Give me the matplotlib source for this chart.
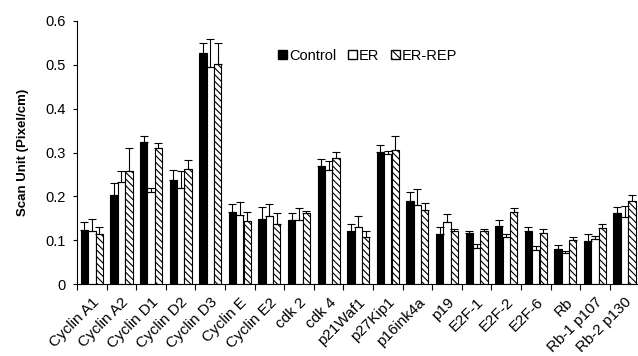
import numpy as np
import matplotlib.pyplot as plt
from matplotlib.patches import Patch

plt.rcParams["font.family"] = ["Liberation Sans", "DejaVu Sans"]
plt.rcParams["hatch.linewidth"] = 0.8

# ---------
# > Data <
# ---------
categories = ["Cyclin A1", "Cyclin A2", "Cyclin D1", "Cyclin D2", "Cyclin D3",
              "Cyclin E", "Cyclin E2", "cdk 2", "cdk 4", "p21Waf1", "p27Kip1",
              "p16ink4a", "p19", "E2F-1", "E2F-2", "E2F-6", "Rb", "Rb-1 p107",
              "Rb-2 p130"]
control = [0.124, 0.203, 0.325, 0.238, 0.528, 0.164, 0.149, 0.146, 0.270, 0.121,
           0.302, 0.190, 0.114, 0.117, 0.133, 0.122, 0.080, 0.097, 0.162]
er = [0.121, 0.232, 0.210, 0.219, 0.494, 0.158, 0.154, 0.147, 0.259, 0.130,
      0.297, 0.181, 0.141, 0.083, 0.108, 0.077, 0.070, 0.102, 0.152]
er_rep = [0.115, 0.257, 0.311, 0.263, 0.501, 0.143, 0.138, 0.161, 0.287, 0.108,
          0.306, 0.169, 0.122, 0.120, 0.164, 0.116, 0.100, 0.127, 0.190]
control_err = [0.017, 0.027, 0.013, 0.022, 0.021, 0.018, 0.027, 0.015, 0.015, 0.015,
               0.014, 0.019, 0.016, 0.004, 0.012, 0.009, 0.008, 0.017, 0.013]
er_err = [0.027, 0.025, 0.010, 0.038, 0.065, 0.030, 0.029, 0.027, 0.022, 0.024,
          0.007, 0.035, 0.018, 0.008, 0.006, 0.009, 0.006, 0.008, 0.026]
er_rep_err = [0.015, 0.054, 0.010, 0.021, 0.048, 0.021, 0.024, 0.006, 0.015, 0.013,
              0.031, 0.015, 0.003, 0.006, 0.009, 0.009, 0.008, 0.009, 0.012]
y_ticks = [0, 0.1, 0.2, 0.3, 0.4, 0.5, 0.6]

# ----------
# > Figure <
# ----------
fig = plt.figure(figsize=(6.38, 3.56), dpi=100)
n = len(categories)
# axis from x=77px, groups ~29.6px wide
ax = fig.add_axes([77 / 638, 72 / 356, n * 29.6 / 638, 263 / 356])

x = np.arange(n)
w = 0.25
bar_kw = dict(edgecolor="black", linewidth=0.8)
err_kw = dict(ecolor="black", elinewidth=0.8, capsize=3, capthick=0.8)

# plus-only error bars (Excel style)
def plus_only(err):
    return [np.zeros(len(err)), err]

ax.bar(x - w, control, w, color="black", yerr=plus_only(control_err), error_kw=err_kw, **bar_kw)
ax.bar(x, er, w, color="white", yerr=plus_only(er_err), error_kw=err_kw, **bar_kw)
ax.bar(x + w, er_rep, w, color="white", hatch="\\\\\\\\\\", yerr=plus_only(er_rep_err),
       error_kw=err_kw, **bar_kw)

ax.set_xlim(-0.5, n - 0.5)
ax.set_ylim(0, 0.6)
ax.set_yticks(y_ticks)
ax.set_yticklabels([f"{t:g}" for t in y_ticks], fontsize=10.5)

# ticks at group boundaries, labels at centers
ax.set_xticks(np.arange(n + 1) - 0.5)
ax.set_xticklabels([])
ax.set_xticks(x, minor=True)
ax.set_xticklabels(categories, minor=True, rotation=45, ha="right",
                   rotation_mode="anchor", fontsize=11)
ax.tick_params(axis="x", which="minor", length=0, pad=8)
ax.tick_params(axis="x", which="major", length=4, width=0.8, direction="out")
ax.tick_params(axis="y", length=3, width=0.8, pad=5)

ax.spines["top"].set_visible(False)
ax.spines["right"].set_visible(False)
ax.spines["left"].set_linewidth(0.8)
ax.spines["bottom"].set_linewidth(0.8)

ax.set_ylabel("Scan Unit (Pixel/cm)", fontsize=9.5, weight="bold", labelpad=12)

handles = [Patch(facecolor="black", edgecolor="black", label="Control"),
           Patch(facecolor="white", edgecolor="black", label="ER"),
           Patch(facecolor="white", edgecolor="black", hatch="\\\\\\\\", label="ER-REP")]
fig.legend(handles=handles, loc="center left", bbox_to_anchor=(271 / 638, 1 - 56 / 356),
           ncol=3, frameon=False, fontsize=10.5, handlelength=0.6, handleheight=0.6,
           handletextpad=0.15, columnspacing=0.8, borderpad=0)

fig.savefig("out.png", dpi=100)
